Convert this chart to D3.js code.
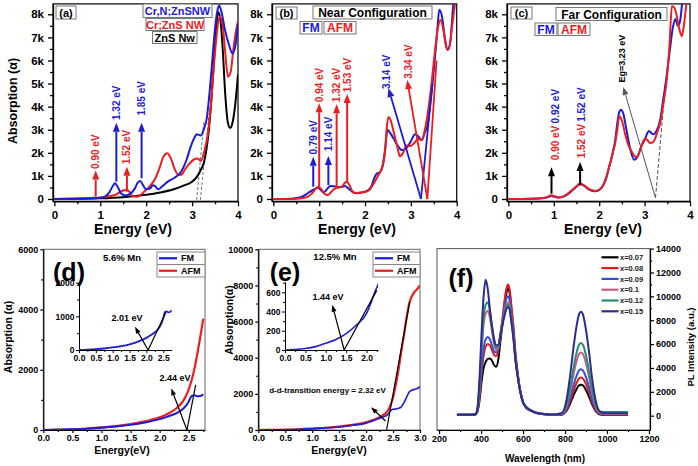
<!DOCTYPE html>
<html><head><meta charset="utf-8">
<script src="https://cdn.jsdelivr.net/npm/d3@7/dist/d3.min.js"></script>
<style>
html,body{margin:0;padding:0;background:#fff;}
svg{display:block;}
text{font-family:"Liberation Sans",Arial,Helvetica,sans-serif;font-weight:bold;}
</style></head><body>
<svg id="chart" width="698" height="466"></svg>
<script>
// ================= DATA =================
const energyTicks = [0, 1, 2, 3, 4];
const energyMinor = [0.5, 1.5, 2.5, 3.5];
const absTicksK = [0, 1, 2, 3, 4, 5, 6, 7, 8];
const absMinorK = [0.5, 1.5, 2.5, 3.5, 4.5, 5.5, 6.5, 7.5];
const absTickLabels = ['0', '1k', '2k', '3k', '4k', '5k', '6k', '7k', '8k'];

// (a)
const aSeries = ['Cr,N;ZnSNW', 'Cr;ZnS NW', 'ZnS Nw'];
const aCrNEnergy = [0,0.5,0.9,1.0,1.1,1.2,1.27,1.32,1.38,1.45,1.55,1.65,1.75,1.82,1.87,1.93,2.0,2.08,2.15,2.2,2.26,2.35,2.47,2.6,2.76,2.88,2.97,3.05,3.1,3.19,3.26,3.32,3.38,3.44,3.5,3.55,3.59,3.64,3.72,3.8,3.88,3.94,4.0];
const aCrNAbs    = [0,0.01,0.03,0.05,0.1,0.3,0.55,0.68,0.52,0.25,0.15,0.22,0.45,0.72,0.78,0.6,0.42,0.45,0.6,0.55,0.42,0.55,0.75,0.9,1.18,1.7,2.27,2.65,2.8,2.75,3.05,3.5,4.6,6.0,7.4,8.15,8.38,8.1,7.3,6.7,6.3,6.6,7.6];
const aCrEnergy  = [0,0.5,0.85,1.0,1.2,1.35,1.45,1.52,1.58,1.64,1.7,1.8,1.95,2.1,2.2,2.3,2.38,2.46,2.54,2.62,2.7,2.76,2.85,2.95,3.05,3.12,3.19,3.27,3.35,3.42,3.48,3.54,3.6,3.66,3.72,3.78,3.84,3.9,3.95,4.0];
const aCrAbs     = [0,0.02,0.05,0.07,0.12,0.2,0.32,0.38,0.39,0.3,0.12,0.1,0.3,0.6,0.9,1.4,1.85,1.98,1.75,1.3,1.05,1.05,1.3,1.55,1.72,1.75,1.65,2.1,2.9,4.3,5.9,7.2,7.9,7.6,6.4,5.3,5.5,6.5,7.2,7.7];
const aZnSEnergy = [0,0.5,1.0,1.5,2.0,2.3,2.6,2.8,3.0,3.1,3.2,3.26,3.3,3.36,3.42,3.47,3.52,3.57,3.62,3.67,3.72,3.78,3.83,3.88,3.94,4.0];
const aZnSAbs    = [0,0.01,0.03,0.08,0.18,0.28,0.42,0.57,0.75,0.95,1.3,1.6,2.0,2.9,4.3,5.8,7.3,8.1,7.7,6.4,4.6,3.3,3.08,3.3,4.1,5.4];
const aArrowEnergy = [0.9, 1.35, 1.58, 1.9];
const aArrowFrom   = [0.1, 0.75, 0.32, 0.9];
const aArrowTo     = [1.23, 3.3, 1.4, 3.3];
const aArrowSeries = ['Cr;ZnS NW', 'Cr,N;ZnSNW', 'Cr;ZnS NW', 'Cr,N;ZnSNW'];
const aArrowLabels = ['0.90 eV', '1.32 eV', '1.52 eV', '1.85 eV'];
const aArrowLabelAbs = [2.05, 4.17, 2.25, 4.36];
const aTangentFromE = [3.1, 3.18], aTangentFromA = [-0.04, -0.04];
const aTangentToE = [3.26, 3.37], aTangentToA = [3.42, 3.7];

// (b)
const magSeries = ['FM', 'AFM'];
const bFmEnergy = [0,0.4,0.55,0.65,0.75,0.87,0.97,1.03,1.09,1.16,1.24,1.32,1.4,1.48,1.56,1.64,1.73,1.82,1.93,2.04,2.14,2.2,2.26,2.32,2.38,2.44,2.49,2.55,2.62,2.7,2.8,2.9,3.0,3.09,3.17,3.24,3.3,3.36,3.44,3.52,3.58,3.62,3.68,3.74,3.8,3.86,3.92,4.0];
const bFmAbs    = [0,0.01,0.05,0.12,0.25,0.4,0.49,0.4,0.28,0.4,0.56,0.55,0.52,0.52,0.56,0.45,0.3,0.25,0.28,0.35,0.55,0.9,1.1,1.15,1.4,2.2,3.0,2.85,2.63,2.35,2.12,2.2,2.5,2.8,2.7,2.55,2.85,3.2,4.4,6.0,7.4,8.2,7.9,7.0,6.45,6.8,8.3,9.5];
const bAfmEnergy = [0,0.5,0.65,0.75,0.82,0.9,0.98,1.05,1.12,1.18,1.26,1.34,1.42,1.5,1.56,1.6,1.66,1.72,1.8,1.9,2.0,2.1,2.2,2.28,2.35,2.43,2.47,2.51,2.56,2.62,2.7,2.76,2.83,2.91,3.0,3.08,3.16,3.24,3.3,3.36,3.44,3.52,3.59,3.65,3.72,3.78,3.83,3.9,3.96,4.0];
const bAfmAbs    = [0,0.01,0.04,0.1,0.2,0.38,0.53,0.42,0.22,0.17,0.3,0.45,0.5,0.55,0.7,0.75,0.6,0.35,0.25,0.28,0.3,0.4,0.7,1.0,1.25,1.9,3.0,3.55,3.4,2.95,2.3,1.85,2.0,2.32,2.3,2.45,2.6,2.55,2.95,3.6,4.8,6.3,7.4,7.75,7.2,6.5,6.5,7.5,8.4,9.0];
const bArrowEnergy = [0.87, 1.0, 1.2, 1.38, 1.61];
const bArrowFrom   = [0.53, 0.53, 0.6, 0.47, 0.7];
const bArrowTo     = [1.83, 4.15, 1.86, 4.1, 4.55];
const bArrowSeries = ['FM', 'AFM', 'FM', 'AFM', 'AFM'];
const bArrowLabels = ['0.79 eV', '0.94 eV', '1.14 eV', '1.32 eV', '1.53 eV'];
const bArrowLabelAbs = [2.67, 4.94, 2.82, 4.94, 5.37];
const bGapSeries = ['FM', 'AFM'];
const bGapBaseE = [3.22, 3.36];
const bGapTipE = [2.51, 2.92], bGapTipA = [4.8, 5.15];
const bGapTanE = [3.47, 3.56], bGapTanA = [5.0, 6.0];
const bGapLabels = ['3.14 eV', '3.34 eV'];
const bGapLabelE = [2.47, 2.95], bGapLabelA = [5.51, 5.95];

// (c)
const cFmEnergy = [0,0.5,0.75,0.85,0.94,1.02,1.1,1.2,1.3,1.4,1.5,1.58,1.66,1.76,1.84,1.91,1.98,2.06,2.12,2.17,2.22,2.26,2.31,2.35,2.4,2.44,2.48,2.53,2.6,2.68,2.77,2.85,2.93,3.0,3.06,3.1,3.15,3.2,3.26,3.33,3.41,3.49,3.56,3.62,3.68,3.73,3.78,3.83,3.9,4.0];
const cFmAbs    = [0,0.01,0.03,0.07,0.13,0.1,0.06,0.09,0.2,0.36,0.53,0.64,0.58,0.43,0.36,0.33,0.36,0.5,0.72,1.0,1.4,1.68,2.1,2.5,3.3,3.75,3.87,3.7,3.0,2.2,1.7,1.85,2.3,2.55,2.85,2.95,2.85,2.8,2.95,3.3,4.3,5.4,6.5,7.4,7.8,7.5,7.7,8.5,9.2,9.5];
const cAfmEnergy = [0,0.5,0.75,0.85,0.94,1.02,1.1,1.2,1.3,1.4,1.5,1.58,1.66,1.76,1.84,1.91,1.98,2.06,2.12,2.17,2.22,2.26,2.31,2.35,2.4,2.44,2.5,2.57,2.64,2.72,2.78,2.83,2.9,2.96,3.01,3.06,3.12,3.18,3.23,3.28,3.34,3.42,3.49,3.55,3.6,3.65,3.7,3.76,3.82,3.87,3.93,4.0];
const cAfmAbs    = [0,0.01,0.04,0.08,0.16,0.12,0.07,0.1,0.22,0.38,0.55,0.67,0.6,0.45,0.38,0.35,0.38,0.52,0.75,1.03,1.4,1.68,2.1,2.4,3.0,3.58,3.4,2.83,2.35,2.04,1.85,1.82,2.1,2.45,2.62,2.55,2.43,2.45,2.6,2.9,3.27,4.2,5.2,6.7,8.35,8.3,8.0,7.4,7.05,7.6,8.6,9.2];
const cArrowEnergy = [0.95, 1.58];
const cArrowFrom   = [0.23, 0.6];
const cArrowTo     = [1.38, 1.6];
const cLabelEnergy = [1.03, 1.62];
const cLabelsAfm = ['0.90 eV', '1.52 eV'];
const cLabelsFm  = ['0.92 eV', '1.52 eV'];
const cLabelAfmAbs = [2.43, 2.51], cLabelFmAbs = [4.02, 4.09];
const cGapBaseE = 3.24, cGapBaseA = 0.05;
const cGapTipE = 2.53, cGapTipA = 4.85;
const cGapTanE = 3.46, cGapTanA = 5.0;
const cGapLabel = 'Eg=3.23 eV', cGapLabelE = 2.5, cGapLabelA = 6.08;

// (d) 5.6% Mn
const dEnergy = [0,0.25,0.5,0.75,1.0,1.25,1.5,1.75,2.0,2.1,2.2,2.3,2.4,2.45,2.5,2.55,2.6,2.65,2.7,2.75];
const dFm     = [0,10,25,45,75,115,170,250,360,420,490,570,700,800,950,1130,1150,1120,1130,1190];
const dAfm    = [0,10,25,50,85,130,195,285,420,500,600,740,950,1120,1350,1650,2050,2550,3100,3700];
const dTicksX = [0,0.5,1.0,1.5,2.0,2.5];
const dTicksY = [0,2000,4000,6000];
const dInsetTicksY = [0,1000,2000];
const dGap = {label:'2.44 eV', baseE:2.47, tanE:2.62, tanA:1500, tipE:2.2, tipA:1380};
const dInsetGap = {label:'2.01 eV', baseE:2.05, tanE:2.58, tanA:1120, tipE:1.66, tipA:690};

// (e) 12.5% Mn
const eEnergy = [0,0.25,0.5,0.75,1.0,1.25,1.5,1.75,2.0,2.1,2.2,2.3,2.4,2.45,2.5,2.55,2.6,2.65,2.7,2.75,2.8,2.85,2.9,2.95,3.0];
const eFm     = [0,5,15,35,70,110,170,260,380,480,600,700,850,1050,1150,1160,1200,1270,1500,1800,2100,2200,2250,2300,2400];
const eAfm    = [0,5,18,40,80,125,190,285,420,520,640,800,1050,1350,1800,2500,3300,4300,5200,6200,7000,7400,7650,7800,8000];
const eTicksX = [0,0.5,1.0,1.5,2.0,2.5,3.0];
const eTicksY = [0,2000,4000,6000,8000,10000];
const eInsetTicksX = [0,0.5,1.0,1.5,2.0];
const eInsetTicksY = [0,200,400,600];
const eGap = {label:'d-d-transition energy = 2.32 eV', baseE:2.38, tanE:2.81, tanA:7100, fromE:2.36, fromA:500, tipE:2.09, tipA:1260};
const eInsetGap = {label:'1.44 eV', baseE:1.45, tanE:2.25, tanA:620, tipE:1.16, tipA:470};

// (f) PL
const plNames = ['x=0.07','x=0.08','x=0.09','x=0.1','x=0.12','x=0.15'];
const plWavelength = [285,350,372,382,392,402,412,422,432,442,452,462,472,482,492,502,512,520,528,536,544,554,564,574,586,600,615,635,660,700,750,784,804,824,839,854,866,876,886,899,914,929,949,969,994,1040,1100];
const pl007 = [80,80,100,300,1200,2800,4000,4500,4750,4800,4600,4250,4100,4700,6200,7700,9200,10200,10700,10300,9000,7200,5000,3500,2100,1100,650,420,250,120,60,80,330,1000,1650,2200,2520,2600,2520,2180,1600,950,330,100,50,50,50];
const pl008 = [80,80,100,350,1500,3500,5000,5800,6000,5900,5500,5100,5000,5500,6800,8200,9700,10600,11000,10600,9300,7600,5300,3700,2200,1150,700,450,250,120,60,100,400,1200,2000,2700,3100,3200,3100,2700,2000,1150,400,150,80,80,80];
const pl009 = [80,80,100,380,1700,3900,5600,6400,6600,6400,5900,5400,5300,5700,6800,7900,9100,9800,10000,9700,8600,7000,4900,3500,2150,1150,700,450,250,130,70,120,480,1480,2450,3300,3780,3900,3780,3280,2420,1400,470,170,120,120,120];
const pl010 = [80,80,100,450,2200,5200,7600,8600,8800,8200,7100,6000,5500,5700,6700,7800,8800,9300,9500,9200,8200,6700,4700,3400,2100,1100,700,450,250,130,80,150,650,2000,3330,4500,5140,5300,5140,4450,3290,1900,640,220,150,150,150];
const pl012 = [80,80,100,480,2400,5600,8200,9300,9500,8800,7500,6300,5700,5800,6700,7700,8600,9100,9300,9000,8000,6600,4700,3400,2100,1150,750,480,280,150,100,200,750,2300,3840,5200,5920,6100,5920,5120,3780,2200,800,350,300,300,300];
const pl015 = [80,80,100,550,2900,6800,10000,11400,10600,8900,7500,6400,5900,5900,6700,7600,8400,8900,9100,8900,7900,6500,4600,3300,2050,1100,720,470,270,150,100,200,1050,3300,5500,7400,8450,8700,8450,7300,5400,3130,1050,300,200,200,200];
const plSeries = [pl007, pl008, pl009, pl010, pl012, pl015];
const plTicksX = [200,400,600,800,1000,1200];
const plMinorX = [300,500,700,900,1100];
const plTicksY = [0,2000,4000,6000,8000,10000,12000,14000];
const plMinorY = [1000,3000,5000,7000,9000,11000,13000];

// ================= STYLE / HELPERS =================
const BLUE = '#1c1cd8', RED = '#ee1c1c';
const seriesColor = d3.scaleOrdinal().domain(['Cr,N;ZnSNW','Cr;ZnS NW','ZnS Nw','FM','AFM'])
  .range([BLUE, RED, '#000', BLUE, RED]);
const plColor = d3.scaleOrdinal().domain(plNames)
  .range(['#000000', '#e81818', '#3050d8', '#c4607c', '#2a8a78', '#2c2c90']);

const svg = d3.select('#chart');
let clipCount = 0;

function styleAxis(sel, fs, sw) {
  sel.select('.domain').attr('stroke', '#000').attr('stroke-width', sw);
  sel.selectAll('.tick line').attr('stroke', '#000').attr('stroke-width', sw);
  sel.selectAll('.tick text').attr('font-size', fs).attr('font-weight', 'bold').attr('fill', '#000');
}
function addClip(x, y) {
  const id = 'clip' + (clipCount++);
  svg.append('clipPath').attr('id', id).append('rect')
    .attr('x', x.range()[0]).attr('y', y.range()[1])
    .attr('width', x.range()[1] - x.range()[0]).attr('height', y.range()[0] - y.range()[1]);
  return 'url(#' + id + ')';
}
function axes(g, x, y, o) {
  const [x0, x1] = x.range(), [y0, y1] = y.range();
  if (o.frame) g.append('rect').attr('x', x0).attr('y', y1).attr('width', x1 - x0).attr('height', y0 - y1)
    .attr('fill', 'none').attr('stroke', o.frameColor || '#000').attr('stroke-width', o.frameW || 1.2);
  const bx = g.append('g').attr('transform', `translate(0,${y0})`)
    .call(d3.axisBottom(x).tickValues(o.xt).tickFormat(o.xf).tickSize(o.ts).tickSizeOuter(0).tickPadding(o.tpx || o.tp));
  styleAxis(bx, o.fs, o.sw);
  if (o.xm) {
    const m = g.append('g').attr('transform', `translate(0,${y0})`)
      .call(d3.axisBottom(x).tickValues(o.xm).tickFormat('').tickSize(o.ms).tickSizeOuter(0));
    styleAxis(m, o.fs, o.sw); m.select('.domain').remove();
  }
  const yx = o.right ? x1 : x0;
  const mk = () => o.right ? d3.axisRight(y) : d3.axisLeft(y);
  const ly = g.append('g').attr('transform', `translate(${yx},0)`)
    .call(mk().tickValues(o.yt).tickFormat(o.yf).tickSize(o.ts).tickSizeOuter(0).tickPadding(o.tp));
  styleAxis(ly, o.fs, o.sw);
  if (o.ym) {
    const m = g.append('g').attr('transform', `translate(${yx},0)`)
      .call(mk().tickValues(o.ym).tickFormat('').tickSize(o.ms).tickSizeOuter(0));
    styleAxis(m, o.fs, o.sw); m.select('.domain').remove();
  }
}
function curve(g, x, y, xs, ys, color, w, clip, cv) {
  const pts = xs.map((v, i) => [v, ys[i]]);
  g.append('path').attr('d', d3.line().x(d => x(d[0])).y(d => y(d[1])).curve(cv || d3.curveMonotoneX)(pts))
    .attr('fill', 'none').attr('stroke', color).attr('stroke-width', w).attr('stroke-linejoin', 'round')
    .attr('clip-path', clip);
}
function seg(g, x1, y1, x2, y2, color, w, dash) {
  const l = g.append('line').attr('x1', x1).attr('y1', y1).attr('x2', x2).attr('y2', y2)
    .attr('stroke', color).attr('stroke-width', w);
  if (dash) l.attr('stroke-dasharray', dash);
}
function arrow(g, x1, y1, x2, y2, color, w, hl, hw) {
  const a = Math.atan2(y2 - y1, x2 - x1);
  const bx = x2 - hl * Math.cos(a), by = y2 - hl * Math.sin(a);
  seg(g, x1, y1, bx, by, color, w);
  const px = -Math.sin(a) * hw / 2, py = Math.cos(a) * hw / 2;
  g.append('path').attr('d', `M${x2},${y2}L${bx + px},${by + py}L${bx - px},${by - py}Z`).attr('fill', color);
}
function text(g, x, y, s, fs, color, anchor, rot) {
  const t = g.append('text').attr('x', x).attr('y', y).text(s).attr('font-size', fs)
    .attr('fill', color || '#000').attr('text-anchor', anchor || 'middle').attr('dy', '0.35em');
  if (rot) t.attr('transform', `rotate(${rot},${x},${y})`);
  return t;
}
function boxText(g, x0, y0, x1, y1, s, fs, color) {
  g.append('rect').attr('x', x0).attr('y', y0).attr('width', x1 - x0).attr('height', y1 - y0)
    .attr('fill', '#fff').attr('stroke', '#777').attr('stroke-width', 1);
  text(g, (x0 + x1) / 2, (y0 + y1) / 2 + 0.5, s, fs, color);
}

// ================= TOP ROW =================
const yTop = d3.scaleLinear().domain([-0.1, 8.45]).range([201.3, 3.9]);
function topPanel(xr) {
  const x = d3.scaleLinear().domain([-0.03, 4]).range(xr);
  const g = svg.append('g');
  axes(g, x, yTop, {frame: true, xt: energyTicks, xf: d3.format('d'), xm: energyMinor,
    yt: absTicksK, yf: (d, i) => absTickLabels[i], ym: absMinorK, ts: 5, ms: 3, tp: 4, tpx: 4.5, fs: 11.5, sw: 1.3});
  return {x, g, clip: addClip(x, yTop)};
}

// (a)
{
  const {x, g, clip} = topPanel([53, 238]);
  const y = yTop;
  for (let i = 0; i < 2; i++)
    seg(g, x(aTangentFromE[i]), y(aTangentFromA[i]), x(aTangentToE[i]), y(aTangentToA[i]), '#777', 1, '3,2');
  curve(g, x, y, aZnSEnergy, aZnSAbs, seriesColor('ZnS Nw'), 2, clip);
  curve(g, x, y, aCrEnergy, aCrAbs, seriesColor('Cr;ZnS NW'), 2, clip);
  curve(g, x, y, aCrNEnergy, aCrNAbs, seriesColor('Cr,N;ZnSNW'), 2, clip);
  aArrowEnergy.forEach((e, i) => {
    const c = seriesColor(aArrowSeries[i]);
    arrow(g, x(e), y(aArrowFrom[i]), x(e), y(aArrowTo[i]), c, 2, 9, 7);
    text(g, x(e), y(aArrowLabelAbs[i]), aArrowLabels[i], 10, c, 'middle', -90);
  });
  boxText(g, 56, 6, 76, 19, '(a)', 11, '#000');
  boxText(g, 143, 4, 212, 17.5, aSeries[0], 11, seriesColor(aSeries[0]));
  boxText(g, 146, 18.5, 204, 30.5, aSeries[1], 11, seriesColor(aSeries[1]));
  boxText(g, 152.5, 31.5, 197, 43.5, aSeries[2], 11, seriesColor(aSeries[2]));
  text(svg, 13, 101, 'Absorption (\u03b1)', 12.5, '#000', 'middle', -90);
  text(svg, 133, 229.5, 'Energy (eV)', 14, '#000');
}
// (b)
{
  const {x, g, clip} = topPanel([272, 456.7]);
  const y = yTop;
  curve(g, x, y, bFmEnergy, bFmAbs, seriesColor('FM'), 2, clip);
  curve(g, x, y, bAfmEnergy, bAfmAbs, seriesColor('AFM'), 2, clip);
  bGapSeries.forEach((s, i) => {
    const c = seriesColor(s);
    seg(g, x(bGapBaseE[i]), y(0), x(bGapTanE[i]), y(bGapTanA[i]), c, 1.8);
    arrow(g, x(bGapBaseE[i]), y(0), x(bGapTipE[i]), y(bGapTipA[i]), c, 1.8, 9, 7);
    text(g, x(bGapLabelE[i]), y(bGapLabelA[i]), bGapLabels[i], 10, c, 'middle', -90);
  });
  bArrowEnergy.forEach((e, i) => {
    const c = seriesColor(bArrowSeries[i]);
    arrow(g, x(e), y(bArrowFrom[i]), x(e), y(bArrowTo[i]), c, 2, 9, 7);
    text(g, x(e), y(bArrowLabelAbs[i]), bArrowLabels[i], 10, c, 'middle', -90);
  });
  boxText(g, 276, 7, 297, 19, '(b)', 11, '#000');
  boxText(g, 313, 6, 432, 19, 'Near Configuration', 12, '#000');
  boxText(g, 300, 21.5, 322, 34, 'FM', 12, seriesColor('FM'));
  boxText(g, 324, 21.5, 356, 34, 'AFM', 12, seriesColor('AFM'));
  text(svg, 357, 229.5, 'Energy (eV)', 14, '#000');
}
// (c)
{
  const {x, g, clip} = topPanel([507, 690]);
  const y = yTop;
  seg(g, x(cGapBaseE), y(cGapBaseA), x(cGapTanE), y(cGapTanA), '#555', 1, '4,2');
  arrow(g, x(cGapBaseE), y(cGapBaseA), x(cGapTipE), y(cGapTipA), '#555', 1, 8, 6);
  curve(g, x, y, cFmEnergy, cFmAbs, seriesColor('FM'), 2, clip);
  curve(g, x, y, cAfmEnergy, cAfmAbs, seriesColor('AFM'), 2, clip);
  cArrowEnergy.forEach((e, i) => {
    arrow(g, x(e), y(cArrowFrom[i]), x(e), y(cArrowTo[i]), '#000', 2, 9, 7);
    text(g, x(cLabelEnergy[i]), y(cLabelAfmAbs[i]), cLabelsAfm[i], 10, seriesColor('AFM'), 'middle', -90);
    text(g, x(cLabelEnergy[i]), y(cLabelFmAbs[i]), cLabelsFm[i], 10, seriesColor('FM'), 'middle', -90);
  });
  text(g, x(cGapLabelE), y(cGapLabelA), cGapLabel, 9, '#000', 'middle', -90);
  boxText(g, 511, 7, 532, 19, '(c)', 11, '#000');
  boxText(g, 556, 7.5, 667, 20.5, 'Far Configuration', 12, '#000');
  boxText(g, 535, 23, 557, 35.5, 'FM', 12, seriesColor('FM'));
  boxText(g, 558, 23, 590, 35.5, 'AFM', 12, seriesColor('AFM'));
  text(svg, 603, 229.5, 'Energy (eV)', 14, '#000');
}

// ================= BOTTOM ROW =================
function legendBox(g, x0, y0, x1, y1) {
  g.append('rect').attr('x', x0).attr('y', y0).attr('width', x1 - x0).attr('height', y1 - y0)
    .attr('fill', '#fff').attr('stroke', '#888').attr('stroke-width', 1);
  const ym = (y0 + y1) / 2;
  magSeries.forEach((s, i) => {
    const yy = i === 0 ? (y0 + ym) / 2 : (ym + y1) / 2;
    if (i === 1) seg(g, x0, ym, x1, ym, '#888', 1);
    seg(g, x0 + 2, yy, x0 + 20, yy, seriesColor(s), 2.2);
    text(g, x0 + 24, yy, s, 9, '#000', 'start');
  });
}
// (d)
{
  const x = d3.scaleLinear().domain([0, 2.78]).range([43.3, 205]);
  const y = d3.scaleLinear().domain([0, 6000]).range([430, 249.3]);
  const g = svg.append('g');
  axes(g, x, y, {frame: true, frameColor: '#666', frameW: 1, xt: dTicksX, xf: d3.format('.1f'),
    xm: [0.25, 0.75, 1.25, 1.75, 2.25, 2.75], yt: dTicksY, yf: d3.format('d'), ym: [1000, 3000, 5000],
    ts: 3, ms: 2, tp: 2, fs: 9, sw: 1.2});
  const clip = addClip(x, y);
  curve(g, x, y, dEnergy, dAfm, seriesColor('AFM'), 2.2, clip);
  curve(g, x, y, dEnergy, dFm, seriesColor('FM'), 2, clip);
  seg(g, x(dGap.baseE), y(0), x(dGap.tanE), y(dGap.tanA), '#000', 1.2);
  arrow(g, x(dGap.baseE), y(0), x(dGap.tipE), y(dGap.tipA), '#000', 1.2, 7, 5);
  text(g, 175, 378, dGap.label, 9, '#000');
  // inset
  const xi = d3.scaleLinear().domain([0, 2.75]).range([79, 171.7]);
  const yi = d3.scaleLinear().domain([0, 2000]).range([350, 282.7]);
  axes(g, xi, yi, {frame: false, xt: dTicksX, xf: d3.format('.1f'), xm: [0.25, 0.75, 1.25, 1.75, 2.25],
    yt: dInsetTicksY, yf: d3.format('d'), ym: [500, 1500], ts: 3, ms: 2, tp: 1.5, fs: 8.5, sw: 1});
  curve(g, xi, yi, dEnergy, dFm, seriesColor('FM'), 1.8, addClip(xi, yi));
  seg(g, xi(dInsetGap.baseE), yi(0), xi(dInsetGap.tanE), yi(dInsetGap.tanA), '#000', 1.2);
  arrow(g, xi(dInsetGap.baseE), yi(0), xi(dInsetGap.tipE), yi(dInsetGap.tipA), '#000', 1.2, 7, 5);
  text(g, 127, 318, dInsetGap.label, 9, '#000');
  text(g, 122, 258, '5.6% Mn', 9.5, '#000');
  text(g, 69, 272, '(d)', 25, '#000');
  legendBox(g, 157, 252, 205, 277);
  text(svg, 8, 337, 'Absorption (\u03b1)', 10.5, '#000', 'middle', -90);
  text(svg, 122, 450, 'Energy(eV)', 10.5, '#000');
}
// (e)
{
  const x = d3.scaleLinear().domain([0, 3]).range([258.3, 420]);
  const y = d3.scaleLinear().domain([0, 10000]).range([430, 249.3]);
  const g = svg.append('g');
  text(svg, 229, 320, 'Absorption(\u03b1)', 10.5, '#000', 'middle', -90);
  axes(g, x, y, {frame: true, frameColor: '#666', frameW: 1, xt: eTicksX, xf: d3.format('.1f'),
    xm: [0.25, 0.75, 1.25, 1.75, 2.25, 2.75], yt: eTicksY, yf: d3.format('d'), ym: [1000, 3000, 5000, 7000, 9000],
    ts: 3, ms: 2, tp: 2, fs: 9, sw: 1.2});
  const clip = addClip(x, y);
  curve(g, x, y, eEnergy, eAfm, seriesColor('AFM'), 2.2, clip);
  curve(g, x, y, eEnergy, eFm, seriesColor('FM'), 1.6, clip);
  seg(g, x(eGap.baseE), y(0), x(eGap.tanE), y(eGap.tanA), '#000', 1.2);
  arrow(g, x(eGap.fromE), y(eGap.fromA), x(eGap.tipE), y(eGap.tipA), '#000', 1.2, 7, 5);
  text(g, 327.5, 390, eGap.label, 8, '#000');
  // inset
  const xi = d3.scaleLinear().domain([0, 2.28]).range([285, 378]);
  const yi = d3.scaleLinear().domain([0, 710]).range([350, 281.7]);
  axes(g, xi, yi, {frame: false, xt: eInsetTicksX, xf: d3.format('.1f'), xm: [0.25, 0.75, 1.25, 1.75, 2.25],
    yt: eInsetTicksY, yf: d3.format('d'), ym: [100, 300, 500, 700], ts: 3, ms: 2, tp: 1.5, fs: 8.5, sw: 1});
  curve(g, xi, yi, eEnergy, eFm, seriesColor('FM'), 1.6, addClip(xi, yi));
  seg(g, xi(eInsetGap.baseE), yi(0), xi(eInsetGap.tanE), yi(eInsetGap.tanA), '#000', 1.2);
  arrow(g, xi(eInsetGap.baseE), yi(0), xi(eInsetGap.tipE), yi(eInsetGap.tipA), '#000', 1.2, 7, 5);
  text(g, 328, 297, eInsetGap.label, 9, '#000');
  text(g, 335, 257, '12.5% Mn', 9.5, '#000');
  text(g, 285, 272, '(e)', 25, '#000');
  legendBox(g, 373, 252, 420, 277);
  text(svg, 339, 450, 'Energy(eV)', 10.5, '#000');
}
// (f)
{
  const x = d3.scaleLinear().domain([190, 1205]).range([437, 650]);
  const y = d3.scaleLinear().domain([-1200, 14000]).range([430, 248.6]);
  const g = svg.append('g');
  axes(g, x, y, {frame: true, frameColor: '#555', frameW: 1, right: true, xt: plTicksX, xf: d3.format('d'),
    xm: plMinorX, yt: plTicksY, yf: d3.format('d'), ym: plMinorY, ts: 4, ms: 2, tp: 2, fs: 9, sw: 1.2});
  const clip = addClip(x, y);
  plSeries.forEach((s, i) => curve(g, x, y, plWavelength, s, plColor(plNames[i]), 2, clip));
  plNames.forEach((n, i) => {
    const yy = 257.3 + i * 10.8;
    seg(g, 601.5, yy, 618.5, yy, plColor(n), 2.2);
    text(g, 620, yy, n, 7.5, '#222', 'start').attr('font-weight', 'normal');
  });
  text(g, 461, 278, '(f)', 25, '#000');
  text(svg, 545, 458, 'Wavelength (nm)', 10, '#000');
  text(svg, 691, 347, 'PL Intensity (a.u.)', 9.5, '#000', 'middle', -90);
}
</script></body></html>
